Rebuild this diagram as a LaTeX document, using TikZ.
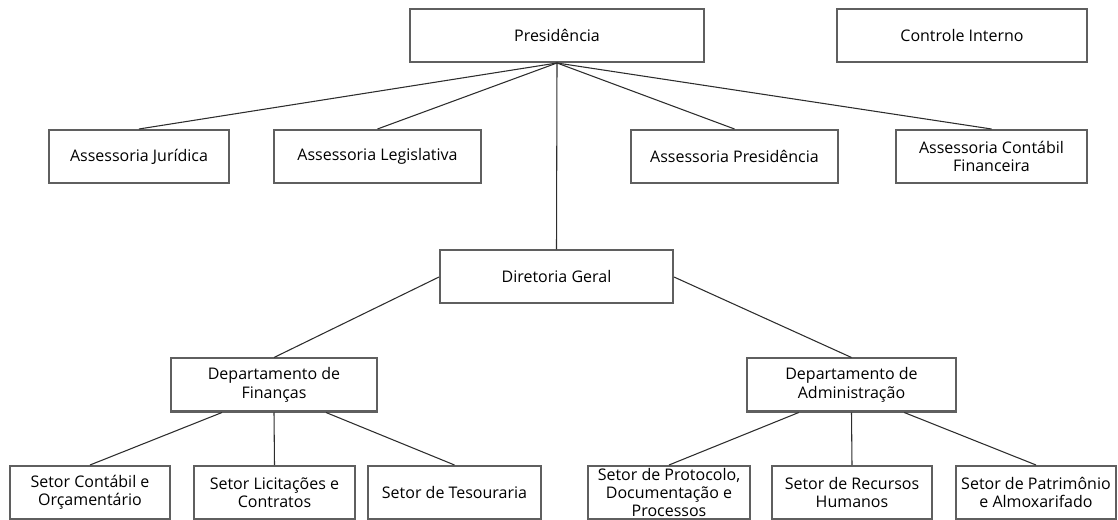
\documentclass[tikz,border=0pt]{standalone}
\usepackage{fontspec}
\setmainfont{Open Sans}
\usepackage{tikz}
\usetikzlibrary{calc}
\definecolor{BoxLine}{RGB}{95,95,95}
\definecolor{LinkLine}{RGB}{45,45,45}
\tikzset{
    Box/.style = {draw=BoxLine,line width=1.5pt,fill=white,align=center,
        minimum width=#1*0.75pt,minimum height=39.75pt,inner sep=1pt,
        font=\fontsize{12}{13.8}\selectfont},
    Label/.style = {align=center,inner sep=0pt,font=\fontsize{12}{13.8}\selectfont},
    Link/.style = {draw=LinkLine,line width=0.8pt}
}

\begin{document}
\begin{tikzpicture}[x=0.75pt,y=-0.75pt]
    \useasboundingbox (0,0) rectangle (1118,520);
    % top level
    \node[Box=294] (pres) at (557,35.5) {Presidência};
    \node[Box=250] (ctrl) at (962,35.5) {Controle Interno};
    % advisors
    \node[Box=180] (juri) at (139,156.5) {Assessoria Jurídica};
    \node[Box=207] (legi) at (377.5,156.5) {Assessoria Legislativa};
    \node[Box=207] (apres) at (734.5,156.5) {Assessoria Presidência};
    \node[Box=191] (acont) at (991.5,156.5) {Assessoria Contábil\\Financeira};
    % board and departments
    \node[Box=233] (dir) at (556.5,277) {Diretoria Geral};
    \node[Box=206] (fin) at (274,385) {Departamento de\\Finanças};
    \node[Box=209] (adm) at (851.5,385) {Departamento de\\Administração};
    % sectors
    \node[Box=160] (contab) at (90,492.5) {Setor Contábil e\\Orçamentário};
    \node[Box=161] (licit) at (274.5,492.5) {Setor Licitações e\\Contratos};
    \node[Box=173] (tes) at (454.5,492.5) {Setor de Tesouraria};
    \node[Box=162] (prot) at (669,492.5) {};
    \node[Label] (protL) at (prot) {Setor de Protocolo,\\Documentação e\\Processos};
    \node[Box=160] (rh) at (852,492.5) {Setor de Recursos\\Humanos};
    \node[Box=160] (patr) at (1036,492.5) {Setor de Patrimônio\\e Almoxarifado};
    % connectors
    \foreach \X in {juri,legi,apres,acont,dir}
        {\draw[Link] (pres.south) -- (\X.north);}
    \draw[Link] (dir.west) -- (fin.north);
    \draw[Link] (dir.east) -- (adm.north);
    \draw[Link] ($(fin.south)!0.5!(fin.south west)$) -- (contab.north);
    \draw[Link] (fin.south) -- (licit.north);
    \draw[Link] ($(fin.south)!0.5!(fin.south east)$) -- (tes.north);
    \draw[Link] ($(adm.south)!0.5!(adm.south west)$) -- (prot.north);
    \draw[Link] (adm.south) -- (rh.north);
    \draw[Link] ($(adm.south)!0.5!(adm.south east)$) -- (patr.north);
\end{tikzpicture}
\end{document}
